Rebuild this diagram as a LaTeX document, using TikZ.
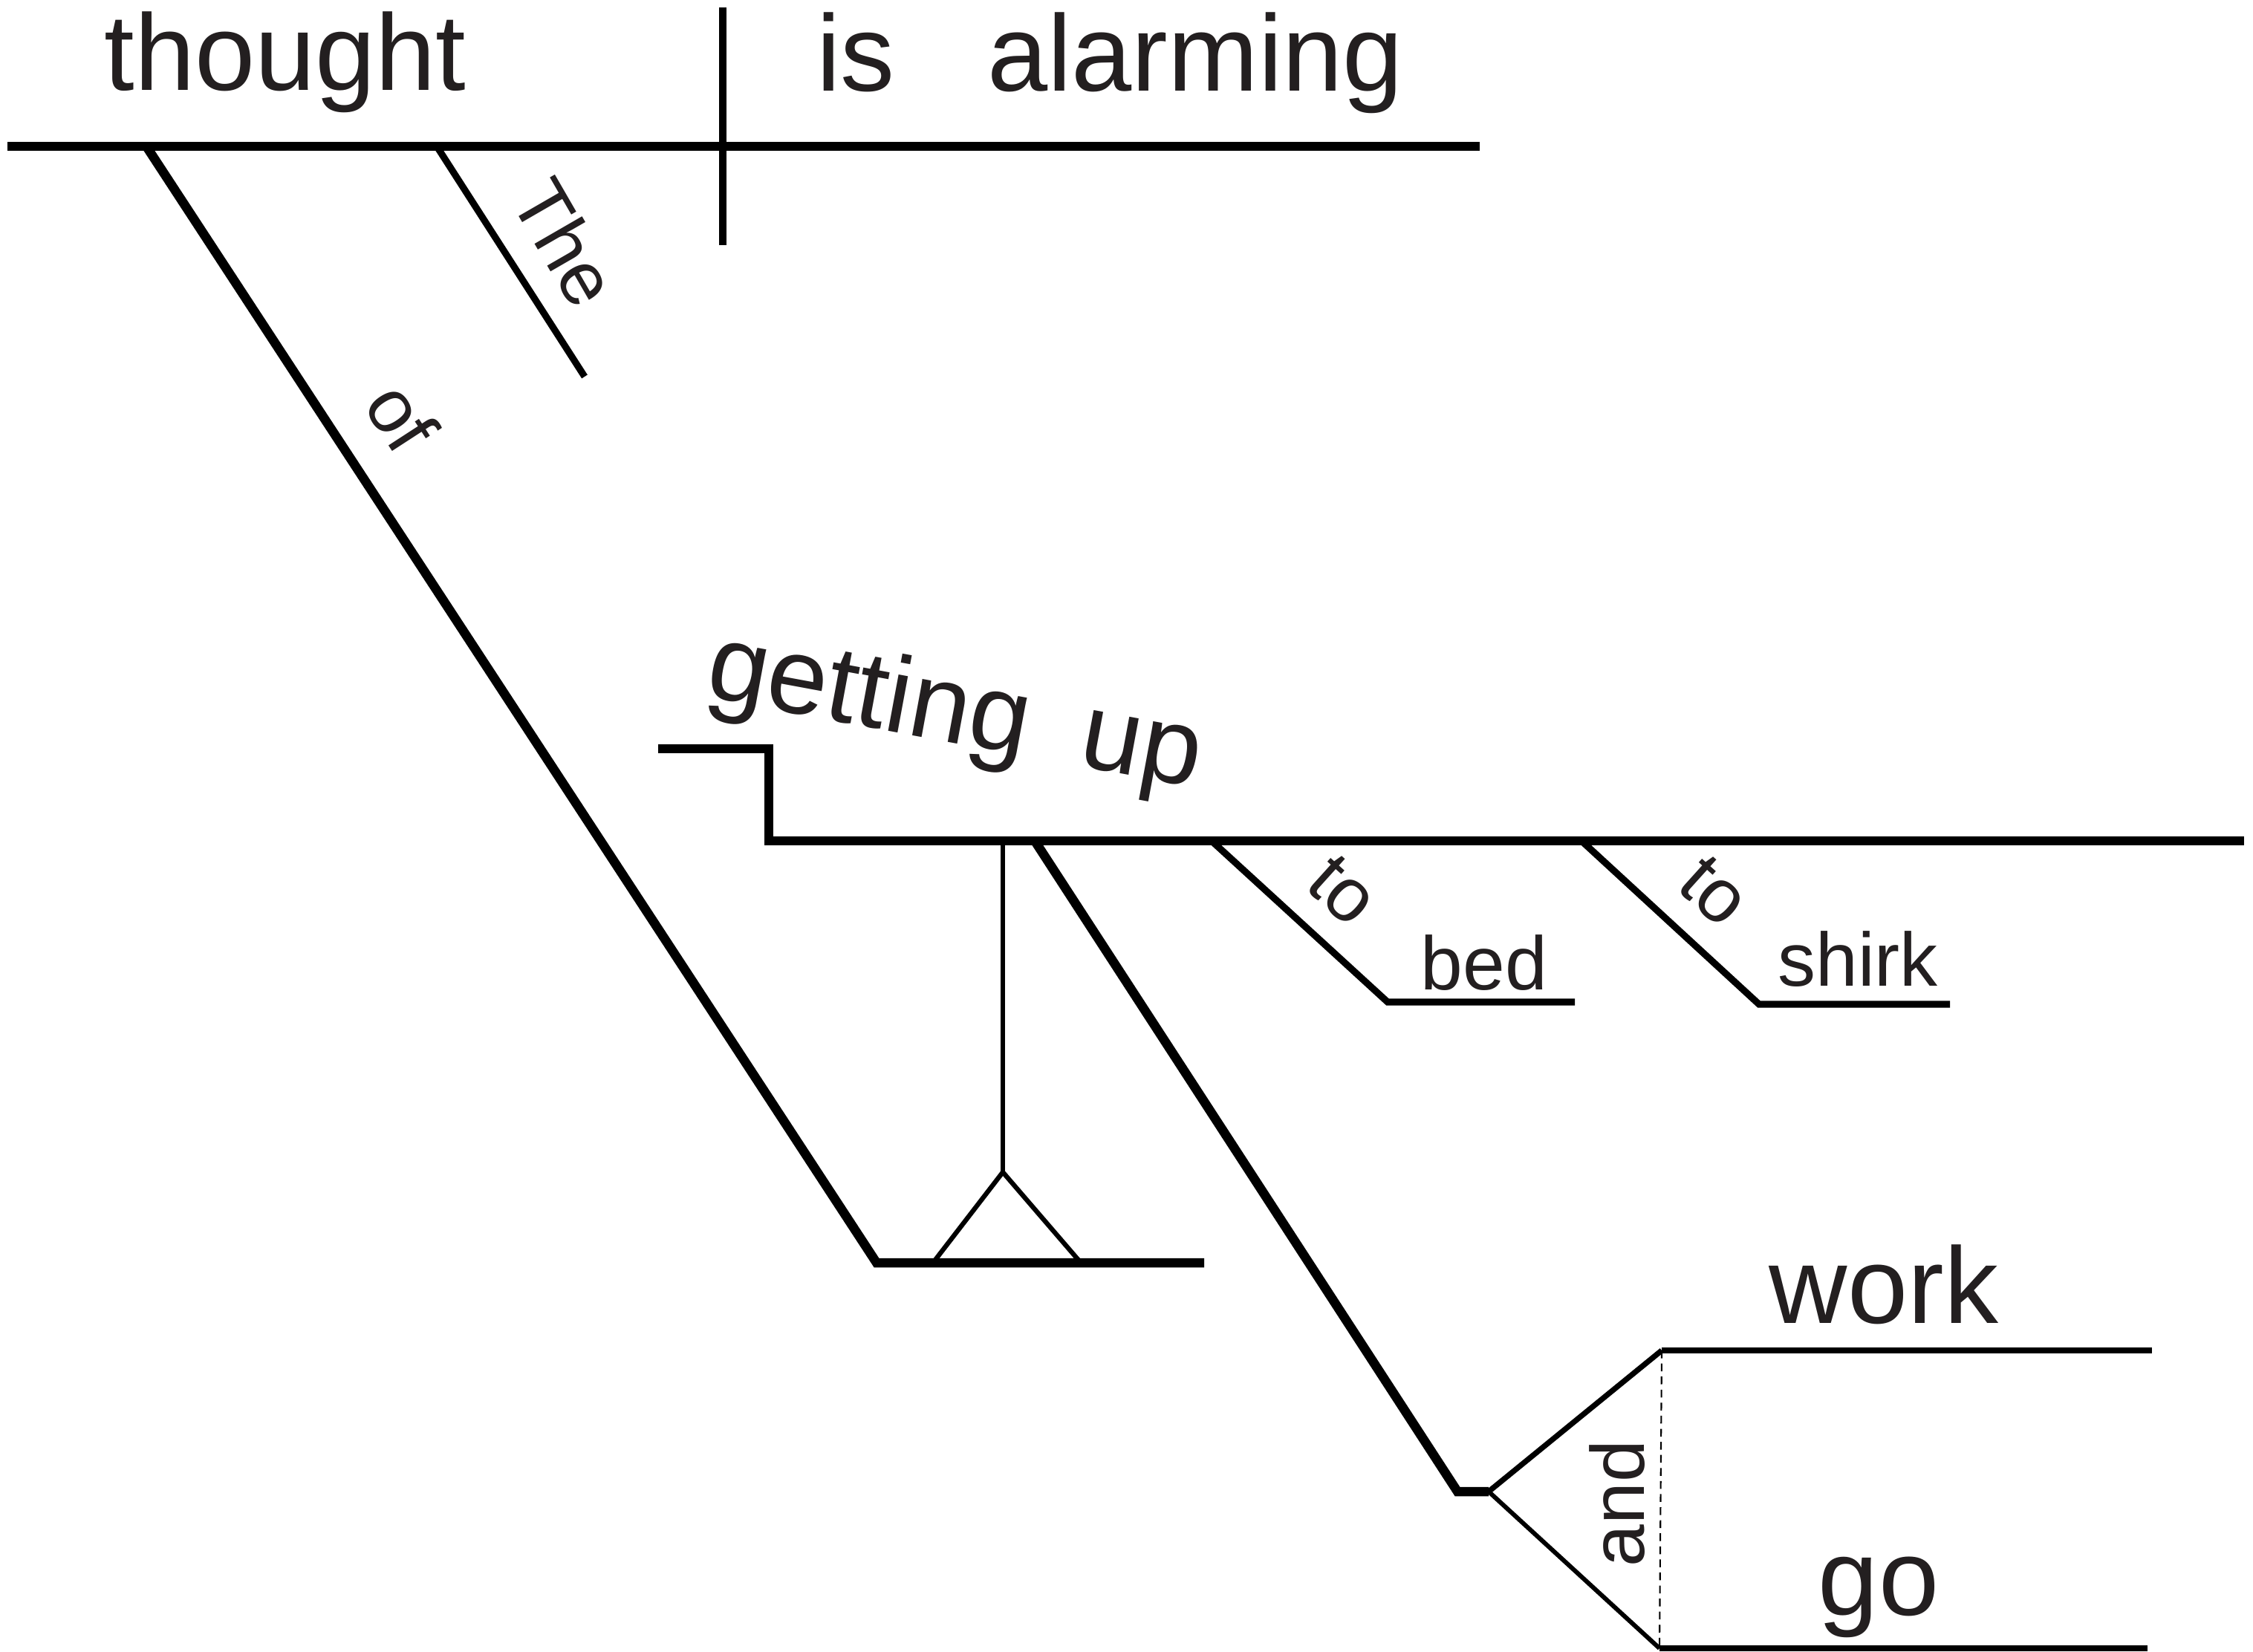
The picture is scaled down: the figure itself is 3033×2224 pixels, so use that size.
\documentclass[tikz,border=0pt]{standalone}
\usepackage{fontspec}
\setmainfont{Liberation Sans}
\definecolor{ink}{RGB}{35,31,32}
\begin{document}
\begin{tikzpicture}[x=0.01cm,y=-0.01cm,line join=miter,line cap=butt,
  bigword/.style={font=\fontsize{41.5}{48}\selectfont,text=ink,inner sep=0pt},
  smallword/.style={font=\fontsize{29}{34}\selectfont,text=ink,inner sep=0pt},
  heavy/.style={line width=3.55pt},
  medium/.style={line width=2.6pt},
  light/.style={line width=1.8pt},
  guide/.style={line width=0.6pt,dash pattern=on 3pt off 2pt}]
\useasboundingbox (0,0) rectangle (3033,2224);

% --- coordinates ---
\coordinate (baseL) at (10,197);
\coordinate (baseR) at (1992,197);
\coordinate (divT) at (973,10);
\coordinate (divB) at (973,330);
\coordinate (ofTop) at (197,197);
\coordinate (ofBot) at (1180,1700);
\coordinate (objR) at (1621,1700);
\coordinate (theTop) at (588,197);
\coordinate (theBot) at (787,507);
\coordinate (stepL) at (886,1008);
\coordinate (stepC) at (1035,1008);
\coordinate (stepD) at (1035,1132);
\coordinate (platR) at (3021,1132);
\coordinate (triTop) at (1350,1132);
\coordinate (apex) at (1350,1578);
\coordinate (triL) at (1256,1700);
\coordinate (triR) at (1455,1700);
\coordinate (bTop) at (1393,1132);
\coordinate (bBot) at (1962,2008);
\coordinate (fork) at (2004,2008);
\coordinate (workL) at (2237,1818);
\coordinate (workR) at (2897,1818);
\coordinate (goL) at (2234,2219);
\coordinate (goR) at (2891,2219);
\coordinate (bedTop) at (1631,1132);
\coordinate (bedL) at (1868,1349);
\coordinate (bedR) at (2120,1349);
\coordinate (shTop) at (2129,1132);
\coordinate (shL) at (2368,1352);
\coordinate (shR) at (2625,1352);

% --- lines ---
\draw[heavy] (baseL) -- (baseR);
\draw[medium] (divT) -- (divB);
\draw[heavy] (ofTop) -- (ofBot) -- (objR);
\draw[medium] (theTop) -- (theBot);
\draw[heavy] (stepL) -- (stepC) -- (stepD) -- (platR);
\draw[light] (triTop) -- (apex);
\draw[light] (triL) -- (apex) -- (triR);
\draw[heavy] (bTop) -- (bBot) -- (fork);
\draw[line width=2.1pt] (fork) -- (workL);
\draw[line width=2.4pt] (workL) -- (workR);
\draw[line width=1.7pt] (fork) -- (goL);
\draw[line width=2.4pt] (goL) -- (goR);
\draw[guide] (workL) -- (goL);
\draw[medium] (bedTop) -- (bedL) -- (bedR);
\draw[medium] (shTop) -- (shL) -- (shR);

% --- words ---
\node[bigword,anchor=base] (thought) at (384,121) {thought};
\node[bigword,anchor=base] (is) at (1152,122) {is};
\node[bigword,anchor=base] (alarming) at (1609,122) {alarming};
\node[smallword,rotate=-60] (the) at (761,326) {The};
\node[smallword,rotate=-57] (of) at (541,561) {of};
\node[bigword,rotate=-10.5] (getting) at (1285,962) {getting\hspace{0.5em}up};
\node[smallword,rotate=-42] (to1) at (1808,1199) {to};
\node[smallword,anchor=base] (bed) at (1998,1332) {bed};
\node[smallword,rotate=-42] (to2) at (2308,1200) {to};
\node[smallword,anchor=base] (shirk) at (2501,1327) {shirk};
\node[bigword,anchor=base] (work) at (2536,1781) {work};
\node[bigword,anchor=base] (go) at (2529,2174) {go};
\node[smallword,rotate=90] (and) at (2177,2024) {and};
\end{tikzpicture}
\end{document}
